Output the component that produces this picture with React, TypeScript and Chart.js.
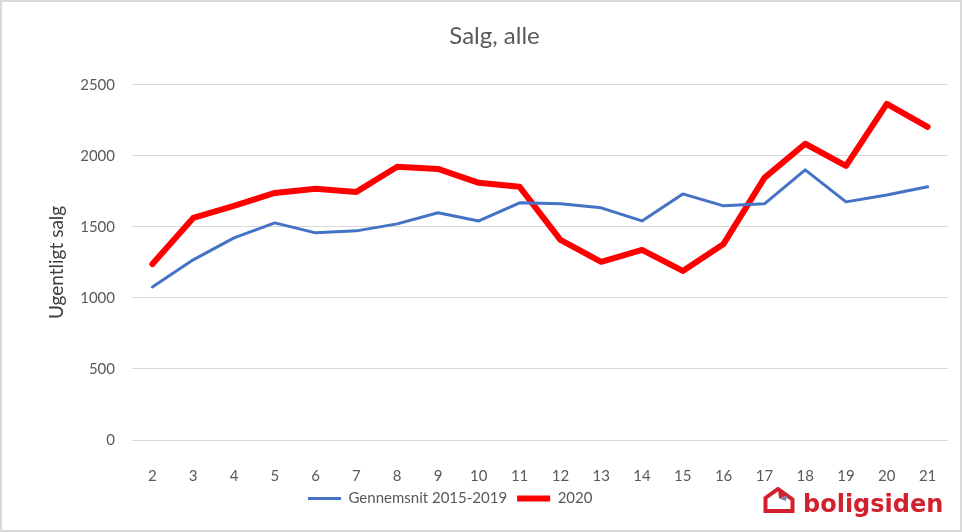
import React, { useEffect, useRef } from "react";
import { Chart, registerables } from "chart.js";

Chart.register(...registerables);

const weeks = ["2", "3", "4", "5", "6", "7", "8", "9", "10", "11", "12", "13", "14", "15", "16", "17", "18", "19", "20", "21"];
const avg2015_2019 = [1077, 1268, 1423, 1528, 1458, 1472, 1521, 1599, 1542, 1669, 1662, 1634, 1542, 1732, 1648, 1662, 1901, 1676, 1725, 1782];
const sales2020 = [1239, 1563, 1648, 1739, 1768, 1746, 1923, 1908, 1810, 1782, 1408, 1254, 1338, 1190, 1380, 1845, 2085, 1930, 2366, 2204];
const seriesLabels = ["Gennemsnit 2015-2019", "2020"];

const FONT = "Lato, 'Open Sans', sans-serif";
const GREY = "#595959";

const legendShift = {
  id: "legendShift",
  afterLayout(chart: any) {
    if (chart.legend) {
      chart.legend.left = 298;
    }
  },
};

export default function App() {
  const ref = useRef<HTMLCanvasElement | null>(null);

  useEffect(() => {
    if (!ref.current) return;
    const chart = new Chart(ref.current, {
      type: "line",
      data: {
        labels: weeks,
        datasets: [
          {
            label: seriesLabels[0],
            data: avg2015_2019,
            borderColor: "#4472C4",
            backgroundColor: "#4472C4",
            borderWidth: 3,
            pointRadius: 0,
            borderJoinStyle: "round",
            borderCapStyle: "round",
            tension: 0,
          },
          {
            label: seriesLabels[1],
            data: sales2020,
            borderColor: "#FF0000",
            backgroundColor: "#FF0000",
            borderWidth: 6,
            pointRadius: 0,
            borderJoinStyle: "round",
            borderCapStyle: "round",
            tension: 0,
          },
        ],
      },
      plugins: [legendShift],
      options: {
        responsive: false,
        animation: false,
        devicePixelRatio: 1,
        layout: { padding: { left: 41, right: 14, top: 0, bottom: 16 } },
        plugins: {
          title: {
            display: true,
            text: "Salg, alle",
            color: GREY,
            font: { family: FONT, size: 24, weight: "normal" },
            padding: { top: 22, bottom: 34 },
          },
          legend: {
            display: true,
            position: "bottom",
            align: "start",
            labels: {
              usePointStyle: true,
              pointStyle: "line",
              pointStyleWidth: 33,
              color: GREY,
              font: { family: FONT, size: 15 },
              padding: 10,
            },
          },
          tooltip: { enabled: false },
        },
        scales: {
          x: {
            offset: true,
            grid: { display: false },
            border: { display: false },
            ticks: { color: GREY, font: { family: FONT, size: 15 }, padding: 19, maxRotation: 0 },
            afterFit(scale: any) {
              scale.height = 41;
            },
          },
          y: {
            min: 0,
            max: 2500,
            ticks: {
              stepSize: 500,
              color: GREY,
              font: { family: FONT, size: 15 },
              padding: 17,
              callback: (v: any) => String(v),
            },
            grid: { color: "#d9d9d9", lineWidth: 1, drawTicks: false },
            border: { display: false },
            title: {
              display: true,
              text: "Ugentligt salg",
              color: "#404040",
              font: { family: FONT, size: 19 },
            },
            afterFit(scale: any) {
              scale.width = 91;
            },
          },
        },
      },
    });
    return () => chart.destroy();
  }, []);

  return (
    <div style={{ position: "fixed", left: 0, top: 0, width: 962, height: 532, background: "#fff" }}>
      <canvas ref={ref} width={962} height={532} style={{ display: "block", width: 962, height: 532 }} />
      <div
        style={{
          position: "absolute",
          left: 0,
          top: 0,
          width: 962,
          height: 532,
          boxSizing: "border-box",
          border: "2px solid #d9d9d9",
          pointerEvents: "none",
        }}
      />
      <svg
        style={{ position: "absolute", left: 763, top: 487 }}
        width={32}
        height={26}
        viewBox="0 0 32 26"
      >
        <path d="M2.5 24 L2.5 11 L15 2 L29.5 12.5 L29.5 24 Z" fill="none" stroke="#d3202f" strokeWidth={4} strokeLinejoin="miter" />
        <polygon points="15,2 24,8.5 16,11.5" fill="#d3202f" />
        <polygon points="16,11.5 24,8.5 23,14" fill="#7b7fb0" />
      </svg>
      <span
        style={{
          position: "absolute",
          left: 803,
          top: 492,
          fontFamily: "'DejaVu Sans', sans-serif",
          fontWeight: 700,
          fontSize: 24,
          lineHeight: "24px",
          color: "#d3202f",
          whiteSpace: "nowrap",
        }}
      >
        boligsiden
      </span>
    </div>
  );
}
